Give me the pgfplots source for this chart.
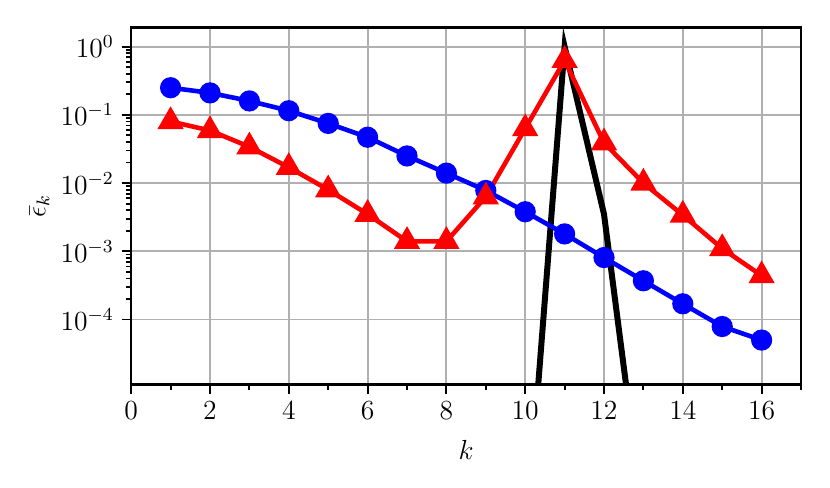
\documentclass[border=0pt]{standalone}
\usepackage{pgfplots}
\pgfplotsset{compat=1.18}
\begin{document}
\begin{tikzpicture}[font=\fontsize{11.6}{14}\selectfont]
\begin{axis}[scale only axis, width=291pt, height=155pt,
  ymode=log, xmin=0, xmax=17, ymin=1.12e-5, ymax=1.9,
  xtick={0,2,...,16}, minor xtick={1,3,...,17},
  ytick={1e-4,1e-3,1e-2,1e-1,1},
  tick align=outside, xtick pos=bottom, ytick pos=left,
  major tick length=4pt, minor tick length=2.3pt,
  every tick/.style={black, line width=0.8pt},
  tick label style={font=\fontsize{11.6}{14}\selectfont},
  label style={font=\fontsize{11.6}{14}\selectfont},
  grid=major, grid style={color={rgb,255:red,176;green,176;blue,176}, line width=0.8pt},
  axis line style={line width=1pt},
  xlabel={$k$}, ylabel={$\bar{\epsilon}_k$},
  xlabel style={yshift=-2pt}, ylabel style={yshift=-2pt},
  clip=true]
\addplot[black, line width=2.6pt] coordinates {(9,1e-14) (10,4e-8) (11,1.0) (12,0.0035) (13,1.2e-7) (14,1e-14)};
\addplot[blue, line width=2pt, mark=*, mark size=3.6pt, mark options={solid}] coordinates {
(1,0.25) (2,0.21) (3,0.16) (4,0.115) (5,0.075) (6,0.047) (7,0.025) (8,0.014)
(9,0.0078) (10,0.0038) (11,0.0018) (12,8.1e-4) (13,3.7e-4) (14,1.7e-4) (15,7.9e-5) (16,5.0e-5)};
\addplot[red, line width=2pt, mark=triangle*, mark size=4.6pt, mark options={solid}] coordinates {
(1,0.08) (2,0.059) (3,0.034) (4,0.017) (5,0.008) (6,0.0035) (7,0.0014) (8,0.0014)
(9,0.0063) (10,0.063) (11,0.63) (12,0.039) (13,0.010) (14,0.0034) (15,0.0011) (16,4.4e-4)};
\end{axis}
\path (current axis.south west) ++(-57pt,-45pt) coordinate (bl);
\path (current axis.north east) ++(12.6pt,12pt) coordinate (tr);
\path (bl) rectangle (tr);
\end{tikzpicture}
\end{document}
